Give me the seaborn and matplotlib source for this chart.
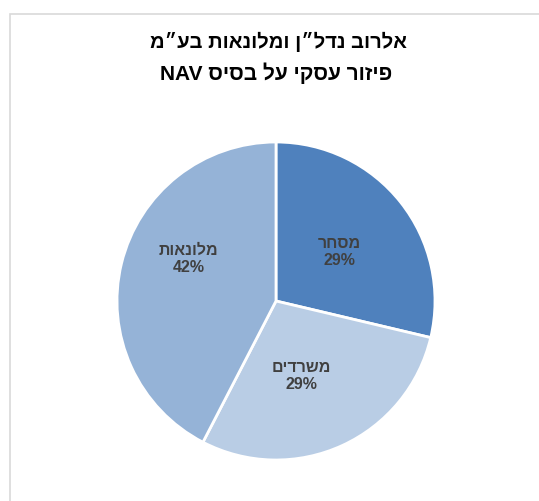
import matplotlib
matplotlib.use("Agg")
import matplotlib.pyplot as plt
import seaborn as sns
from matplotlib.patches import Rectangle

sns.set_theme(style="white")
plt.rcParams["font.family"] = ["Liberation Sans", "DejaVu Sans"]

# Data (logical Hebrew order)
categories = ["מסחר", "משרדים", "מלונאות"]
values = [28.7, 28.9, 42.4]
colors = ["#4F81BD", "#B9CDE5", "#95B3D7"]
title_line1 = "אלרוב נדל״ן ומלונאות בע״מ"
title_line2_he = "פיזור עסקי על בסיס"
title_line2_en = "NAV"

# label placement (axes data units, radius = 1)
label_pos = [(0.40, 0.31), (0.16, -0.47), (-0.55, 0.265)]


def vis(s):
    # matplotlib has no bidi support: reverse Hebrew to visual order
    return s[::-1]


fig = plt.figure(figsize=(5.39, 5.01), dpi=100)
ax = fig.add_axes([276 / 539 - 159 / 539, 1 - (301 + 159) / 501, 318 / 539, 318 / 501])

labels_iter = iter(categories)


def fmt(p):
    name = next(labels_iter)
    return f"{vis(name)}\n{p:.0f}%"


wedges, texts, autotexts = ax.pie(
    values,
    colors=colors,
    startangle=90,
    counterclock=False,
    autopct=fmt,
    pctdistance=0.56,
    wedgeprops=dict(edgecolor="white", linewidth=2),
    textprops=dict(color="#404040", fontsize=11.5, fontweight="bold"),
)
for t, pos in zip(autotexts, label_pos):
    t.set_linespacing(1.2)
    t.set_position(pos)
ax.set_aspect("equal")
ax.set_xlim(-1.0, 1.0)
ax.set_ylim(-1.0, 1.0)
ax.axis("off")

fig.text(278 / 539, 1 - 42 / 501, vis(title_line1), ha="center", va="center",
         fontsize=14.5, fontweight="bold", color="#000000")
fig.text(276 / 539, 1 - 73 / 501, title_line2_en + " " + vis(title_line2_he),
         ha="center", va="center", fontsize=15, fontweight="bold", color="#000000")

border = Rectangle((9.5 / 539, -0.05), 0.99, 1 - 13.5 / 501 + 0.05,
                   transform=fig.transFigure, fill=False,
                   edgecolor="#D9D9D9", linewidth=1.2, clip_on=False)
fig.patches.append(border)

fig.savefig("out.png", dpi=100)
